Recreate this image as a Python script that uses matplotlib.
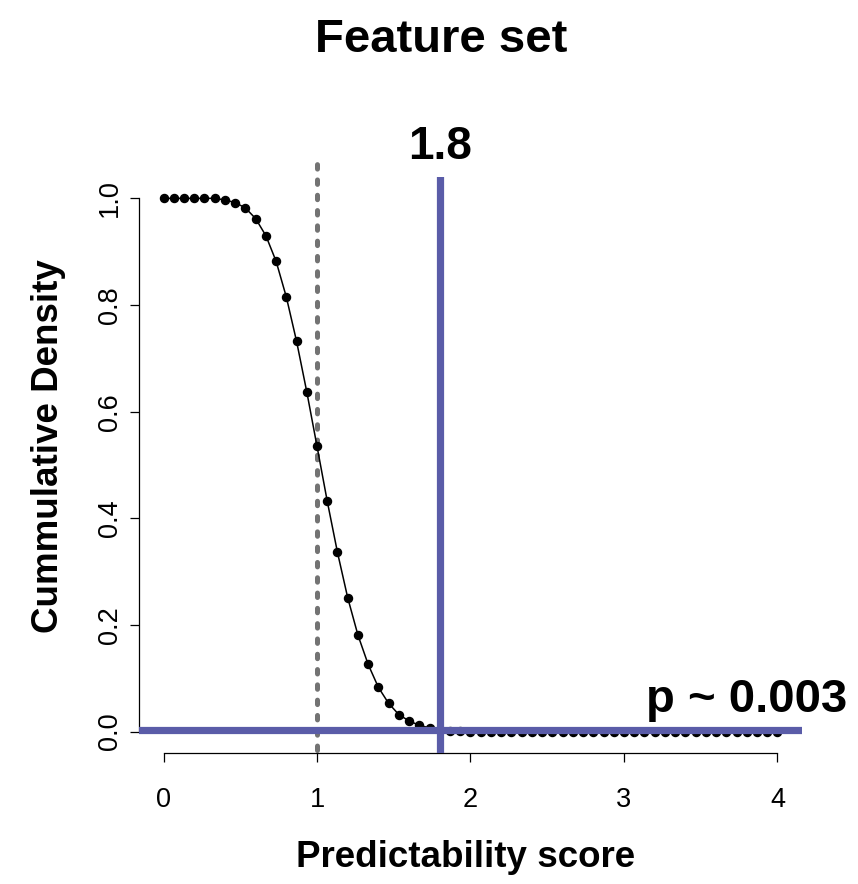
import matplotlib
matplotlib.use("Agg")
import matplotlib.pyplot as plt
import numpy as np

plt.rcParams["font.family"] = ["Liberation Sans", "DejaVu Sans"]

# predictability score grid (61 points, 0..4) and cumulative density
score = np.linspace(0, 4, 61)
cum_density = [
    1.0, 1.0, 1.0, 1.0, 1.0, 1.0, 0.997, 0.992, 0.982, 0.962,
    0.930, 0.882, 0.815, 0.732, 0.637, 0.535, 0.432, 0.336, 0.251, 0.181,
    0.126, 0.083, 0.053, 0.032, 0.020, 0.012, 0.007, 0.004, 0.002, 0.001,
] + [0.0] * 31

null_mean = 1.0
observed = 1.8
p_value = 0.003
observed_label = "1.8"
p_label = "p ~ 0.003"

blue = "#5A5CA8"
gray = "#737373"

fig = plt.figure(figsize=(8.58, 8.84), dpi=100)
ax = fig.add_axes([139 / 858, 1 - 753 / 884, (802 - 139) / 858, (753 - 177) / 884])

ax.plot(score, cum_density, color="black", lw=1.1, marker="o", ms=5.8, zorder=3)
ax.plot([null_mean, null_mean], [-0.035, 1.07], color=gray, lw=3.6,
        dashes=(0.89, 2.17), dash_capstyle="round", clip_on=False, zorder=2)
ax.axvline(observed, color=blue, lw=5.2, zorder=4)
ax.axhline(p_value, color=blue, lw=5.2, zorder=4)

ax.set_xlim(-0.16, 4.16)
ax.set_ylim(-0.04, 1.04)
ax.set_xticks([0, 1, 2, 3, 4])
ax.set_yticks([0.0, 0.2, 0.4, 0.6, 0.8, 1.0])
ax.set_yticklabels(["0.0", "0.2", "0.4", "0.6", "0.8", "1.0"])

for side in ("top", "right"):
    ax.spines[side].set_visible(False)
ax.spines["left"].set_bounds(0, 1)
ax.spines["bottom"].set_bounds(0, 4)
for side in ("left", "bottom"):
    ax.spines[side].set_linewidth(0.9)

ax.tick_params(axis="both", direction="out", length=6.2, width=0.9, labelsize=19.5)
ax.tick_params(axis="x", pad=18.5)
ax.tick_params(axis="y", pad=5.5)
for lab in ax.get_yticklabels():
    lab.set_rotation(90)
    lab.set_va("center")
    lab.set_ha("right")

ax.text(observed, 1.096, observed_label, ha="center", va="center",
        fontsize=33, fontweight="bold", clip_on=False)
ax.text(4.455, 0.036, p_label, ha="right", va="baseline",
        fontsize=34, fontweight="bold", clip_on=False)

fig.text(441 / 858, 1 - 40 / 884, "Feature set", ha="center", va="center",
         fontsize=34, fontweight="bold")
fig.text(466 / 858, 1 - 867 / 884, "Predictability score", ha="center", va="baseline",
         fontsize=26.5, fontweight="bold")
fig.text(49 / 858, 1 - 446 / 884, "Cummulative Density", ha="center", va="center",
         rotation=90, fontsize=26.5, fontweight="bold")

fig.savefig("out.png", dpi=100)
